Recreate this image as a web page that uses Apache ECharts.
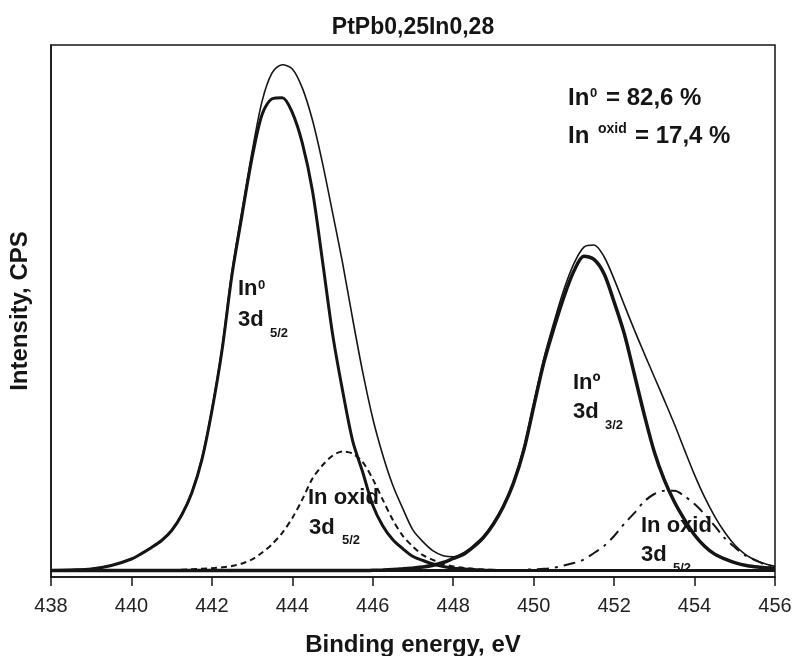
<!DOCTYPE html>
<html>
<head>
<meta charset="utf-8">
<title>PtPb0,25In0,28</title>
<script src="https://cdn.jsdelivr.net/npm/echarts@6.0.0/dist/echarts.min.js"></script>
<style>
  html, body { margin: 0; padding: 0; background: #fff; }
  #main { width: 794px; height: 656px; }
</style>
</head>
<body>
<div id="main"></div>
<script>
// binding energy grid, eV
var energy = [
  438, 438.5, 439, 439.5,
  440, 440.25, 440.5, 440.75, 441, 441.25, 441.5, 441.75,
  442, 442.25, 442.5, 442.75, 443, 443.25, 443.5, 443.75,
  444, 444.25, 444.5, 444.75, 445, 445.25, 445.5, 445.75,
  446, 446.25, 446.5, 446.75, 447, 447.25, 447.5, 447.75,
  448, 448.25, 448.5, 448.75, 449, 449.25, 449.5, 449.75,
  450, 450.25, 450.5, 450.75, 451, 451.25, 451.5, 451.75,
  452, 452.25, 452.5, 452.75, 453, 453.25, 453.5, 453.75,
  454, 454.25, 454.5, 454.75, 455, 455.25, 455.5, 455.75,
  456
];

// measured spectrum (thin line)
var envelope = [
  1.3, 1.35, 1.55, 2.2,
  3.4, 4.4, 5.6, 6.9, 8.8, 11.8, 16.0, 22.3,
  31.6, 43.0, 57.5, 69.0, 80.0, 89.5, 94.8, 96.3,
  95.5, 91.9, 85.9, 77.8, 68.5, 59.0, 48.5, 38.5,
  29.8, 22.9, 17.2, 12.8, 8.8, 6.6, 4.9, 4.0,
  3.8, 4.5, 5.9, 7.6, 10.2, 13.5, 18.0, 24.2,
  32.6, 41.0, 47.8, 54.0, 58.9, 62.0, 62.4, 60.2,
  56.0, 51.2, 46.5, 42.0, 37.6, 33.2, 28.7, 23.9,
  19.2, 15.0, 11.4, 8.4, 6.0, 4.3, 3.2, 2.5,
  2.0
];

// In0 3d5/2 component (thick)
var in0_52 = [
  1.24, 1.32, 1.5, 2.16,
  3.38, 4.4, 5.55, 6.86, 8.74, 11.65, 15.8, 22.0,
  31.2, 42.5, 56.8, 68.0, 78.8, 87.0, 89.9, 90.1,
  87.3, 81.5, 72.6, 59.4, 45.7, 35.0, 25.6, 19.7,
  13.5, 9.6, 7.0, 5.3, 3.85, 3.1, 2.44, 1.97,
  1.64, 1.5, 1.39, 1.32, 1.26, 1.2, 1.2, 1.2,
  1.2, 1.2, 1.2, 1.2, 1.2, 1.2, 1.2, 1.2,
  1.2, 1.2, 1.2, 1.2, 1.2, 1.2, 1.2, 1.2,
  1.2, 1.2, 1.2, 1.2, 1.2, 1.2, 1.2, 1.2,
  1.2
];

// In oxid 3d5/2 component (dashed)
var oxid_52 = [
  1.2, 1.2, 1.2, 1.2,
  1.2, 1.2, 1.22, 1.26, 1.3, 1.37, 1.45, 1.54,
  1.65, 1.82, 2.07, 2.54, 3.3, 4.6, 6.2, 8.3,
  11.1, 14.6, 18.5, 21.0, 22.8, 23.6, 23.2, 21.6,
  18.4, 14.5, 10.7, 7.7, 5.7, 4.1, 3.2, 2.44,
  2.0, 1.73, 1.54, 1.41, 1.32, 1.26, 1.2, 1.2,
  1.2, 1.2, 1.2, 1.2, 1.2, 1.2, 1.2, 1.2,
  1.2, 1.2, 1.2, 1.2, 1.2, 1.2, 1.2, 1.2,
  1.2, 1.2, 1.2, 1.2, 1.2, 1.2, 1.2, 1.2,
  1.2
];

// In0 3d3/2 component (thick)
var in0_32 = [
  1.2, 1.2, 1.2, 1.2,
  1.2, 1.2, 1.2, 1.2, 1.2, 1.2, 1.2, 1.2,
  1.2, 1.2, 1.2, 1.2, 1.2, 1.2, 1.2, 1.2,
  1.2, 1.2, 1.2, 1.2, 1.2, 1.2, 1.2, 1.2,
  1.26, 1.32, 1.41, 1.54, 1.7, 1.88, 2.2, 2.73,
  3.48, 4.23, 5.64, 7.42, 9.96, 13.3, 17.7, 23.7,
  32.0, 40.2, 46.7, 52.6, 57.5, 60.3, 59.7, 57.0,
  51.7, 45.8, 38.2, 30.5, 23.5, 18.2, 14.1, 10.8,
  7.9, 5.8, 4.3, 3.4, 2.7, 2.2, 1.92, 1.73,
  1.64
];

// In oxid 3d3/2 component (dash-dot)
var oxid_32 = [
  1.2, 1.2, 1.2, 1.2,
  1.2, 1.2, 1.2, 1.2, 1.2, 1.2, 1.2, 1.2,
  1.2, 1.2, 1.2, 1.2, 1.2, 1.2, 1.2, 1.2,
  1.2, 1.2, 1.2, 1.2, 1.2, 1.2, 1.2, 1.2,
  1.2, 1.2, 1.2, 1.2, 1.2, 1.2, 1.2, 1.2,
  1.2, 1.2, 1.2, 1.2, 1.22, 1.25, 1.28, 1.35,
  1.45, 1.54, 1.73, 2.16, 2.63, 3.29, 4.51, 5.83,
  7.7, 10.0, 12.0, 14.2, 15.6, 16.2, 16.2, 15.2,
  13.7, 11.8, 9.6, 7.3, 5.6, 4.1, 3.2, 2.35,
  1.88
];

// background line
var bgEnergy = [438, 456];
var bgValue = [1.2, 1.2];

var xTicks = [438, 440, 442, 444, 446, 448, 450, 452, 454, 456];

var FONT = "'Liberation Sans', Arial, Helvetica, sans-serif";
var INK = '#151515';

function pairs(xs, ys) {
  return xs.map(function (x, i) { return [x, ys[i]]; });
}

function curve(name, ys, width, dash) {
  return {
    name: name,
    type: 'line',
    data: pairs(energy, ys),
    showSymbol: false,
    smooth: 0.3,
    silent: true,
    lineStyle: { color: INK, width: width, type: dash || 'solid' }
  };
}

// text placed by its left edge and the middle of its capitals
function txt(text, x, y, size, align) {
  return {
    type: 'text',
    x: x,
    y: y,
    z: 10,
    silent: true,
    style: {
      text: text,
      font: 'bold ' + size + 'px ' + FONT,
      fill: INK,
      align: align || 'left',
      verticalAlign: 'middle'
    }
  };
}

var chart = echarts.init(document.getElementById('main'));

var option = {
  animation: false,
  backgroundColor: '#fff',
  textStyle: { fontFamily: FONT },
  grid: {
    left: 51, top: 45, width: 724, height: 532,
    outerBoundsMode: 'none',
    show: true, borderColor: INK, borderWidth: 1.5, backgroundColor: 'transparent'
  },
  xAxis: {
    type: 'value',
    min: 438, max: 456, interval: 2,
    axisLine: { show: true, lineStyle: { color: INK, width: 1.5 } },
    axisTick: { show: true, inside: false, length: 9, lineStyle: { color: INK, width: 1.5 } },
    axisLabel: {
      fontSize: 20, color: '#222', margin: 19, fontFamily: FONT,
      formatter: function (v) { return xTicks.indexOf(v) >= 0 ? String(v) : ''; }
    },
    splitLine: { show: false },
    name: 'Binding energy, eV',
    nameLocation: 'middle',
    nameGap: 56,
    nameTextStyle: { fontSize: 24, fontWeight: 'bold', color: INK, fontFamily: FONT }
  },
  yAxis: {
    type: 'value',
    min: 0, max: 100,
    axisLine: { show: true, lineStyle: { color: INK, width: 1.5 } },
    axisTick: { show: false },
    axisLabel: { show: false },
    splitLine: { show: false },
    name: 'Intensity, CPS',
    nameLocation: 'middle',
    nameGap: 19,
    nameTextStyle: { fontSize: 24, fontWeight: 'bold', color: INK, fontFamily: FONT }
  },
  series: [
    {
      name: 'background',
      type: 'line',
      data: pairs(bgEnergy, bgValue),
      showSymbol: false,
      silent: true,
      lineStyle: { color: INK, width: 3 }
    },
    curve('In oxid 3d5/2', oxid_52, 2, [6, 4]),
    curve('In oxid 3d3/2', oxid_32, 2, [12, 6, 3, 6]),
    curve('In0 3d5/2', in0_52, 3),
    curve('In0 3d3/2', in0_32, 3.5),
    curve('envelope', envelope, 1.6)
  ],
  graphic: [
    txt('PtPb0,25In0,28', 413, 28, 23, 'center'),

    txt('In', 568, 98, 24),
    txt('0', 590, 93, 13),
    txt('= 82,6 %', 606, 98, 24),
    txt('In', 568, 136, 24),
    txt('oxid', 598, 129, 14),
    txt('= 17,4 %', 635, 136, 24),

    txt('In', 238, 289, 22),
    txt('0', 258, 285, 13),
    txt('3d', 238, 320, 22),
    txt('5/2', 270, 333, 13),

    txt('In oxid', 308, 498, 22),
    txt('3d', 309, 528, 22),
    txt('5/2', 342, 540, 13),

    txt('Inº', 573, 383, 22),
    txt('3d', 573, 412, 22),
    txt('3/2', 605, 425, 13),

    txt('In oxid', 641, 526, 22),
    txt('3d', 641, 555, 22),
    txt('5/2', 673, 568, 13)
  ]
};

chart.setOption(option);
</script>
</body>
</html>
